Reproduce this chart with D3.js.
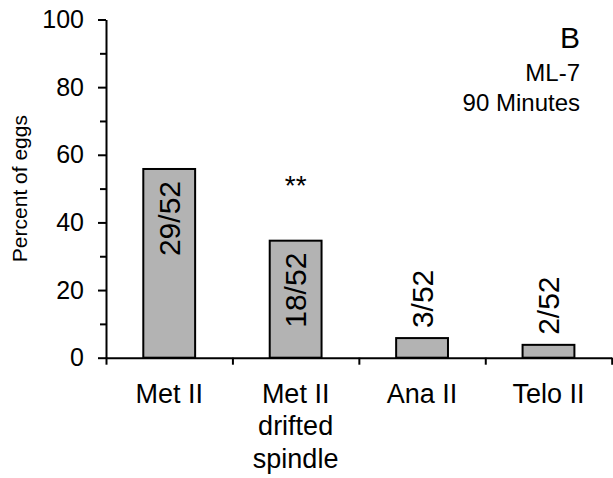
<!DOCTYPE html>
<html>
<head>
<meta charset="utf-8">
<script src="https://cdn.jsdelivr.net/npm/d3@7"></script>
<style>
  html, body { margin: 0; padding: 0; background: #fff; }
  svg { display: block; font-family: "Liberation Sans", Arial, sans-serif; }
</style>
</head>
<body>
<div id="chart"></div>
<script>
// ---- data ----
const categories = ["Met II", "Met II drifted spindle", "Ana II", "Telo II"];
const categoryLines = [["Met II"], ["Met II", "drifted", "spindle"], ["Ana II"], ["Telo II"]];
const percentValues = [55.8, 34.6, 5.8, 3.8];
const barLabels = ["29/52", "18/52", "3/52", "2/52"];
const majorTicks = [0, 20, 40, 60, 80, 100];
const minorTicks = [10, 30, 50, 70, 90];
const significance = ["", "**", "", ""];
const panelLetter = "B";
const panelNotes = ["ML-7", "90 Minutes"];
const yTitle = "Percent of eggs";

// ---- layout ----
const W = 613, H = 478;
const plotLeft = 106, plotRight = 611.7, plotBottom = 357.7, plotTop = 19.5;

const svg = d3.select("#chart").append("svg").attr("width", W).attr("height", H);

const y = d3.scaleLinear().domain([0, 100]).range([plotBottom, plotTop]);
const x = d3.scaleBand().domain(categories).range([plotLeft, plotRight]).padding(0);
const xEdges = d3.scaleLinear().domain([0, categories.length]).range([plotLeft, plotRight]);
const barW = x.bandwidth() * 0.41;

// bars
svg.append("g").selectAll("rect").data(categories).join("rect")
  .attr("x", (d) => x(d) + x.bandwidth() / 2 - barW / 2)
  .attr("y", (d, i) => y(percentValues[i]))
  .attr("width", barW)
  .attr("height", (d, i) => y(0) - y(percentValues[i]))
  .attr("fill", "#b3b3b3")
  .attr("stroke", "#000")
  .attr("stroke-width", 2);

// y axis major
const yAxis = svg.append("g").attr("transform", `translate(${plotLeft},0)`)
  .call(d3.axisLeft(y).tickValues(majorTicks).tickSize(8).tickSizeOuter(0).tickPadding(14).tickFormat(d3.format("d")));
yAxis.selectAll("text").attr("font-size", 25).attr("fill", "#000").attr("font-family", "Liberation Sans, Arial, sans-serif");
// y axis minor
const yMinor = svg.append("g").attr("transform", `translate(${plotLeft},0)`)
  .call(d3.axisLeft(y).tickValues(minorTicks).tickSize(6).tickSizeOuter(0).tickFormat(""));
yMinor.select(".domain").remove();

// x axis boundaries
const xAxis = svg.append("g").attr("transform", `translate(0,${plotBottom})`)
  .call(d3.axisBottom(xEdges).tickValues(d3.range(categories.length + 1)).tickSize(7).tickSizeOuter(0).tickFormat(""));

svg.selectAll(".domain, .tick line").attr("stroke", "#000").attr("stroke-width", 2);

// category labels
const catG = svg.append("g");
categories.forEach((c, i) => {
  const t = catG.append("text")
    .attr("x", x(c) + x.bandwidth() / 2)
    .attr("y", 402.5)
    .attr("text-anchor", "middle")
    .attr("font-size", 27)
    .attr("fill", "#000");
  categoryLines[i].forEach((line, j) => {
    t.append("tspan").attr("x", x(c) + x.bandwidth() / 2).attr("dy", j === 0 ? 0 : 32.5).text(line);
  });
});

// bar labels (rotated)
svg.append("g").selectAll("text").data(categories).join("text")
  .attr("transform", (d, i) => {
    const cx = x(d) + x.bandwidth() / 2;
    const v = percentValues[i];
    const ty = v > 20 ? y(v) + 12 : y(v) - 10;
    return `translate(${cx},${ty}) rotate(-90)`;
  })
  .attr("text-anchor", (d, i) => percentValues[i] > 20 ? "end" : "start")
  .attr("dy", "0.36em")
  .attr("font-size", 30)
  .attr("fill", "#000")
  .text((d, i) => barLabels[i]);

// significance
svg.append("g").selectAll("text").data(categories).join("text")
  .attr("x", (d) => x(d) + x.bandwidth() / 2)
  .attr("y", 195)
  .attr("text-anchor", "middle")
  .attr("font-size", 28)
  .attr("fill", "#000")
  .text((d, i) => significance[i]);

// y title
svg.append("text")
  .attr("transform", `translate(27,${(plotTop + plotBottom) / 2}) rotate(-90)`)
  .attr("text-anchor", "middle")
  .attr("font-size", 21)
  .attr("fill", "#000")
  .text(yTitle);

// panel annotation
svg.append("text").attr("x", 580).attr("y", 48).attr("text-anchor", "end")
  .attr("font-size", 30).attr("fill", "#000").text(panelLetter);
panelNotes.forEach((n, i) => {
  svg.append("text").attr("x", 580).attr("y", 81 + i * 30).attr("text-anchor", "end")
    .attr("font-size", 24).attr("fill", "#000").text(n);
});
</script>
</body>
</html>
